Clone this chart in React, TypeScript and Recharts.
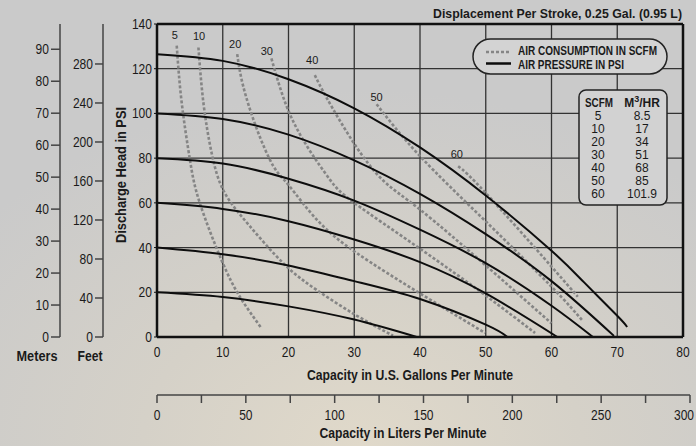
import { LineChart, Line, XAxis, YAxis, CartesianGrid, ReferenceLine, ReferenceDot } from "recharts"

// capacity (gpm) vs discharge head (psi)
const psi120 = [[0, 126.5], [10, 123.5], [20, 115.3], [30, 102.3], [40, 84.8], [50, 63.3], [60, 38.6], [65, 24.3], [70, 9.5], [71.5, 4.5]]
const psi100 = [[0, 100], [10, 97.5], [20, 90.5], [30, 79], [40, 64], [50, 46], [60, 25], [69.5, 0.5]]
const psi80 = [[0, 80], [10, 77.6], [20, 70.8], [30, 61], [40, 48], [50, 33], [60, 14], [66.3, 0]]
const psi60 = [[0, 60], [10, 57.3], [20, 51.8], [30, 43.6], [40, 33.5], [50, 19.5], [60.9, 0]]
const psi40 = [[0, 40], [10, 37], [20, 32], [30, 25], [40, 17], [50, 5.5], [53.3, 0]]
const psi20 = [[0, 20], [10, 17.9], [20, 13.7], [30, 7.8], [39.5, 0]]

// air consumption (scfm)
const air5 = [[3.0, 130.3], [3.75, 105], [5.0, 79.4], [6.5, 60], [9.8, 34.5], [12.6, 18], [15.9, 3.9]]
const air10 = [[6.3, 129.5], [7.05, 105], [8.3, 82.4], [10.2, 65], [14, 50], [19.2, 33], [24.3, 21], [30.4, 9.5], [35.9, 0.6]]
const air20 = [[12.2, 126.5], [13.1, 112.3], [15.2, 92.9], [17.7, 76.4], [20, 68], [24.3, 52.5], [30.4, 37.5], [40, 19.5], [49.9, 1.8]]
const air30 = [[17.4, 124.6], [19.7, 103.3], [22.8, 85.4], [26.3, 70.4], [30, 60], [40, 39.5], [50, 18.5], [57.5, 1.8]]
const air40 = [[24, 117.1], [25.8, 107], [29.9, 86.9], [34.4, 70], [40, 57], [50, 32], [60, 6.1]]
const air50 = [[33.4, 104.1], [40, 80.9], [50, 51.7], [60, 22.5], [64.8, 7]]
const air60 = [[45.8, 76.4], [50, 64.4], [60, 31.5], [64, 18]]

const airNames = ["5", "10", "20", "30", "40", "50", "60"]
const airLabelAt = [[2.7, 135], [6.4, 134.5], [11.9, 131], [16.7, 128], [23.6, 124], [33.4, 107.5], [45.6, 82]]

const scfm = ["5", "10", "20", "30", "40", "50", "60"]
const m3hr = ["8.5", "17", "34", "51", "68", "85", "101.9"]

const gpmTicks = [0, 10, 20, 30, 40, 50, 60, 70, 80]
const psiTicks = [0, 20, 40, 60, 80, 100, 120, 140]
const meterTicks = [0, 10, 20, 30, 40, 50, 60, 70, 80, 90]
const feetTicks = [0, 40, 80, 120, 160, 200, 240, 280]
const literTicks = [0, 25, 50, 75, 100, 125, 150, 175, 200, 225, 250, 275, 300]

const toPts = (arr: number[][]) => arr.map(([x, y]) => ({ x, y }))
const pressure = [psi120, psi100, psi80, psi60, psi40, psi20].map(toPts)
const air = [air5, air10, air20, air30, air40, air50, air60].map(toPts)

const SANS = '"Liberation Sans", Arial, sans-serif'
const INK = "#1a1a1a"
const abs = (left: number, top: number) => ({ position: "absolute" as const, left, top })

// tick text squeezed a little, the original uses a condensed face
const narrowTick = (anchor: "end" | "middle", dy: string, fmt?: (v: number) => string) => (p: any) => {
  const v = p.payload.value
  return (
    <text
      x={p.x}
      y={p.y}
      dy={dy}
      textAnchor={anchor}
      fill={INK}
      fontSize={14}
      fontFamily={SANS}
      transform={`translate(${p.x} 0) scale(0.86 1) translate(${-p.x} 0)`}
    >
      {fmt ? fmt(v) : v}
    </text>
  )
}

// the meters / feet scales next to the psi axis
function SideScale({ left, width, domain, ticks, tickSize }: { left: number; width: number; domain: number[]; ticks: number[]; tickSize: number }) {
  return (
    <LineChart width={width + 2} height={446} margin={{ top: 24, right: 2, bottom: 109, left: 0 }} style={abs(left, 0)}>
      <XAxis hide type="number" domain={[0, 1]} />
      <YAxis
        type="number"
        domain={domain}
        ticks={ticks}
        allowDataOverflow
        width={width}
        tickSize={tickSize}
        tickMargin={2}
        axisLine={{ stroke: "#444", strokeWidth: 1.5 }}
        tickLine={{ stroke: "#444", strokeWidth: 1.5 }}
        tick={narrowTick("end", "0.355em")}
      />
    </LineChart>
  )
}

export default function App() {
  return (
    <div
      style={{
        ...abs(0, 0),
        width: 696,
        height: 446,
        overflow: "hidden",
        background: "radial-gradient(ellipse 70% 80% at 52% 100%, #e0d9ca 0%, #d5d1c8 45%, #cacaca 100%)",
      }}
    >
      <SideScale left={0} width={60} domain={[0, 97.9]} ticks={meterTicks} tickSize={9} />
      <SideScale left={60} width={43} domain={[0, 321]} ticks={feetTicks} tickSize={8} />

      <LineChart width={696} height={446} margin={{ top: 24, right: 13, bottom: 79, left: 103 }} style={abs(0, 0)}>
        <CartesianGrid stroke="#333" strokeWidth={1.3} />
        <XAxis
          type="number"
          dataKey="x"
          domain={[0, 80]}
          ticks={gpmTicks}
          allowDataOverflow
          height={30}
          tickLine={false}
          tickSize={4}
          tickMargin={6}
          axisLine={{ stroke: "#111", strokeWidth: 2.5 }}
          tick={narrowTick("middle", "0.71em")}
        />
        <YAxis
          type="number"
          domain={[0, 140]}
          ticks={psiTicks}
          allowDataOverflow
          width={54}
          tickSize={3}
          tickMargin={2}
          axisLine={{ stroke: "#111", strokeWidth: 2.5 }}
          tickLine={{ stroke: "#111" }}
          tick={narrowTick("end", "0.355em")}
        />
        <ReferenceLine y={140} stroke="#111" strokeWidth={2.5} />
        <ReferenceLine x={80} stroke="#111" strokeWidth={2.5} />
        {air.map((d, i) => (
          <Line
            key={"a" + i}
            data={d}
            dataKey="y"
            type="natural"
            stroke="#858585"
            strokeWidth={2.6}
            strokeDasharray="3 2"
            dot={false}
            isAnimationActive={false}
          />
        ))}
        {pressure.map((d, i) => (
          <Line
            key={"p" + i}
            data={d}
            dataKey="y"
            type="natural"
            stroke="#0d0d0d"
            strokeWidth={2}
            dot={false}
            isAnimationActive={false}
          />
        ))}
        {airNames.map((n, i) => (
          <ReferenceDot
            key={"l" + n}
            x={airLabelAt[i][0]}
            y={airLabelAt[i][1]}
            r={0}
            fill="none"
            stroke="none"
            label={{ value: n, position: "center", fill: INK, fontSize: 11, fontFamily: SANS }}
          />
        ))}
      </LineChart>

      <LineChart
        width={696}
        height={76}
        margin={{ top: 0, right: 6, bottom: 0, left: 157 }}
        data={literTicks.map((l) => ({ l }))}
        style={abs(0, 370)}
      >
        <XAxis
          type="number"
          dataKey="l"
          domain={[0, 300]}
          ticks={literTicks}
          height={51}
          tickSize={8}
          tickMargin={7}
          axisLine={{ stroke: "#444", strokeWidth: 1.5 }}
          tickLine={{ stroke: "#444", strokeWidth: 1.5 }}
          tick={narrowTick("middle", "0.71em", (v) => (v % 50 === 0 ? String(v) : ""))}
        />
      </LineChart>

      <svg width={696} height={446} style={{ ...abs(0, 0), pointerEvents: "none" }}>
        <g fontFamily={SANS} fontWeight="bold" fill={INK}>
          <text x={682} y={13} fontSize={13} textAnchor="end" dominantBaseline="central" textLength={249} lengthAdjust="spacingAndGlyphs">
            Displacement Per Stroke, 0.25 Gal. (0.95 L)
          </text>
          <text
            x={120}
            y={175}
            fontSize={15}
            textAnchor="middle"
            dominantBaseline="central"
            transform="rotate(-90 120 175)"
            textLength={136}
            lengthAdjust="spacingAndGlyphs"
          >
            Discharge Head in PSI
          </text>
          <text x={37} y={356} fontSize={14} textAnchor="middle" dominantBaseline="central" textLength={41} lengthAdjust="spacingAndGlyphs">
            Meters
          </text>
          <text x={90} y={356} fontSize={14} textAnchor="middle" dominantBaseline="central" textLength={25} lengthAdjust="spacingAndGlyphs">
            Feet
          </text>
          <text x={410} y={375} fontSize={14} textAnchor="middle" dominantBaseline="central" textLength={206} lengthAdjust="spacingAndGlyphs">
            Capacity in U.S. Gallons Per Minute
          </text>
          <text x={403} y={433} fontSize={14} textAnchor="middle" dominantBaseline="central" textLength={167} lengthAdjust="spacingAndGlyphs">
            Capacity in Liters Per Minute
          </text>
        </g>

        <rect x={473} y={39} width={194} height={35} rx={17.5} fill="#d3d3d3" stroke="#222" strokeWidth={1.5} />
        <line x1={486} x2={511} y1={52} y2={52} stroke="#858585" strokeWidth={2.4} strokeDasharray="3 2" />
        <line x1={486} x2={511} y1={63.5} y2={63.5} stroke="#0d0d0d" strokeWidth={2.5} />
        <g fontFamily={SANS} fontWeight="bold" fontSize={12} fill={INK}>
          <text x={518} y={51} dominantBaseline="central" textLength={139} lengthAdjust="spacingAndGlyphs">
            AIR CONSUMPTION IN SCFM
          </text>
          <text x={518} y={65} dominantBaseline="central" textLength={106} lengthAdjust="spacingAndGlyphs">
            AIR PRESSURE IN PSI
          </text>
        </g>

        <rect x={579} y={90} width={88} height={115} rx={7} fill="#d2d2d2" stroke="#222" strokeWidth={1.5} />
        <g fontFamily={SANS} fill={INK} textAnchor="middle">
          <text x={599} y={103} fontSize={12} fontWeight="bold" dominantBaseline="central" textLength={28} lengthAdjust="spacingAndGlyphs">
            SCFM
          </text>
          <text x={642} y={103} fontSize={12} fontWeight="bold" dominantBaseline="central">
            M<tspan dy={-4} fontSize={9}>3</tspan>
            <tspan dy={4}>/HR</tspan>
          </text>
          {scfm.map((s, i) => (
            <text key={"s" + s} x={598} y={116 + i * 13} fontSize={12} dominantBaseline="central">
              {s}
            </text>
          ))}
          {m3hr.map((m, i) => (
            <text key={"m" + m} x={642} y={116 + i * 13} fontSize={12} dominantBaseline="central">
              {m}
            </text>
          ))}
        </g>
      </svg>
    </div>
  )
}
